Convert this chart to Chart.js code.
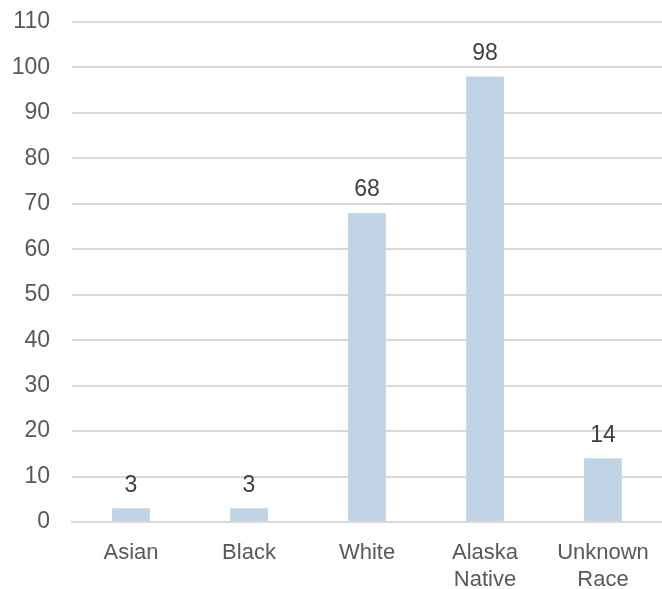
<!DOCTYPE html>
<html>
<head>
<meta charset="utf-8">
<script src="https://cdn.jsdelivr.net/npm/chart.js@4"></script>
<style>
  html, body { margin: 0; padding: 0; background: #fff; }
  #wrap { width: 662px; height: 589px; }
</style>
</head>
<body>
<div id="wrap"><canvas id="chart"></canvas></div>
<script>
const categories = ['Asian', 'Black', 'White', ['Alaska', 'Native'], ['Unknown', 'Race']];
const counts = [3, 3, 68, 98, 14];
const yTicks = [0, 10, 20, 30, 40, 50, 60, 70, 80, 90, 100, 110];

const FONT = '"Liberation Sans", Arial, sans-serif';

// draws the value above each bar
const barLabels = {
  id: 'barLabels',
  afterDatasetsDraw(chart) {
    const ctx = chart.ctx;
    ctx.save();
    ctx.font = '23px ' + FONT;
    ctx.fillStyle = '#404040';
    ctx.textAlign = 'center';
    ctx.textBaseline = 'middle';
    chart.getDatasetMeta(0).data.forEach((bar, i) => {
      ctx.fillText(counts[i], bar.x, bar.y - 23);
    });
    ctx.restore();
  }
};

new Chart(document.getElementById('chart'), {
  type: 'bar',
  data: {
    labels: categories,
    datasets: [{
      data: counts,
      backgroundColor: '#C0D4E6',
      barPercentage: 0.64,
      categoryPercentage: 0.5
    }]
  },
  options: {
    responsive: true,
    maintainAspectRatio: false,
    animation: false,
    layout: { padding: { top: 22, right: 0, left: 0, bottom: 0 } },
    plugins: {
      legend: { display: false },
      tooltip: { enabled: false }
    },
    scales: {
      x: {
        grid: { display: false },
        border: { color: '#D9D9D9', width: 2 },
        ticks: {
          color: '#595959',
          font: { family: FONT, size: 22, lineHeight: 1.2 },
          padding: 10,
          maxRotation: 0
        },
        afterFit(scale) { scale.height = 67; }
      },
      y: {
        min: 0,
        max: 110,
        afterBuildTicks(scale) { scale.ticks = yTicks.map(v => ({ value: v })); },
        grid: { color: '#D9D9D9', lineWidth: 2, drawTicks: false },
        border: { display: false },
        ticks: {
          color: '#595959',
          font: { family: FONT, size: 23 },
          padding: 22
        },
        afterFit(scale) {
          scale.width = 72;
          scale.paddingTop = 0;
          scale.paddingBottom = 0;
        }
      }
    }
  },
  plugins: [barLabels]
});
</script>
</body>
</html>
